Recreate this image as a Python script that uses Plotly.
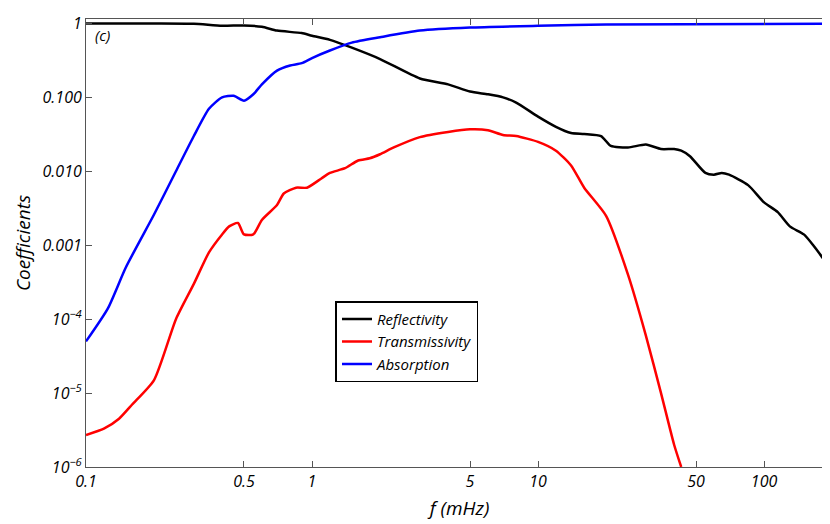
import plotly.graph_objects as go

fx_R = [0.1,0.2,0.3,0.4,0.5,0.6,0.7,0.9,1,1.2,1.5,2,3,4,5,6,7,8,10,12,14,16,19,21,25,30,35,40,43,47,55,60,65,70,85,100,115,130,150,165,180,190,202]
R = [1,1,0.99,0.93,0.94,0.9,0.8,0.74,0.68,0.6,0.47,0.33,0.18,0.15,0.12,0.11,0.1,0.085,0.055,0.04,0.033,0.032,0.03,0.022,0.021,0.023,0.02,0.02,0.019,0.016,0.0095,0.009,0.0095,0.009,0.0065,0.0038,0.0028,0.0018,0.0014,0.001,0.0007,0.00055,0.00037]
fx_A = [0.1,0.125,0.15,0.2,0.25,0.3,0.35,0.4,0.45,0.5,0.55,0.6,0.7,0.8,0.9,1,1.2,1.5,2,3,5,10,20,200]
A = [5e-5,1.4e-4,5e-4,2.6e-3,0.01,0.03,0.07,0.1,0.105,0.09,0.11,0.15,0.23,0.27,0.29,0.34,0.43,0.55,0.65,0.8,0.88,0.93,0.97,0.99]
fx_T = [0.1,0.12,0.14,0.16,0.2,0.25,0.3,0.35,0.4,0.43,0.47,0.5,0.55,0.6,0.7,0.75,0.85,0.95,1.1,1.2,1.4,1.6,1.8,2,2.3,3,4,5,6,7,8,10,12,14,16,20,25,30,35,40,43]
T = [2.7e-6,3.3e-6,4.5e-6,7e-6,1.5e-5,1e-4,3e-4,8e-4,1.4e-3,1.8e-3,2e-3,1.4e-3,1.4e-3,2.2e-3,3.5e-3,5e-3,6e-3,6e-3,8e-3,9.5e-3,0.011,0.014,0.015,0.017,0.021,0.029,0.034,0.037,0.036,0.031,0.03,0.025,0.019,0.012,0.006,0.0025,0.0004,6e-5,1e-5,2e-6,1e-6]

xtv = [0.1,0.5,1,5,10,50,100]
xtt = ["0.1","0.5","1","5","10","50","100"]
ytv = [1e-6,1e-5,1e-4,1e-3,1e-2,1e-1,1]
ytt = ["10<sup>−6</sup>","10<sup>−5</sup>","10<sup>−4</sup>","0.001","0.010","0.100","1"]

fig = go.Figure()
for x, y, n, c in [(fx_R, R, "Reflectivity", "black"), (fx_T, T, "Transmissivity", "red"), (fx_A, A, "Absorption", "blue")]:
    fig.add_trace(go.Scatter(x=x, y=y, mode="lines", name="<i>"+n+"</i>", line=dict(color=c, width=2.5, shape="spline", smoothing=0.6)))

ax = dict(showgrid=False, zeroline=False, showline=True, mirror="ticks", linecolor="#555", ticks="inside", ticklen=6, tickcolor="#555")
fig.update_xaxes(type="log", range=[-1, 2.305], tickvals=xtv, ticktext=["<i>"+t+"</i>" for t in xtt],
                 title=dict(text="<i>f (mHz)</i>", font=dict(size=19), standoff=10), **ax)
fig.update_yaxes(type="log", range=[-6, 0.06], tickvals=ytv, ticktext=["<i>"+t+"</i>" for t in ytt],
                 title=dict(text="<i>Coefficients</i>", font=dict(size=19), standoff=6), **ax)
fig.update_layout(width=830, height=524, margin=dict(l=78, r=4, t=8, b=65), plot_bgcolor="white", paper_bgcolor="white",
                  font=dict(family="Open Sans", size=16, color="black"),
                  legend=dict(x=0.334, y=0.37, xanchor="left", yanchor="top", bordercolor="black", borderwidth=1.5,
                              bgcolor="white", font=dict(size=15)),
                  annotations=[dict(text="<i>(c)</i>", x=0.01, y=0.99, xref="paper", yref="paper", showarrow=False,
                                    xanchor="left", yanchor="top", font=dict(size=15))])
fig.write_html("out.html")
